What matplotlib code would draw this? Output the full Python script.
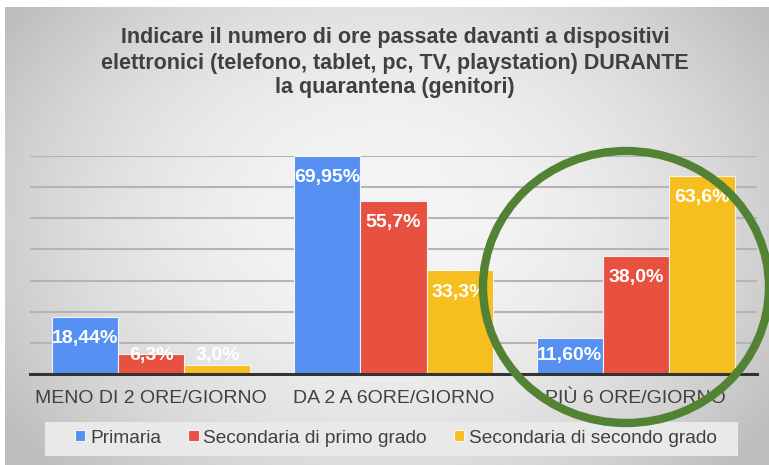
import numpy as np
import matplotlib.pyplot as plt
from matplotlib.patches import Ellipse, Rectangle

plt.rcParams['font.family'] = ['Liberation Sans', 'DejaVu Sans']

categories = ['MENO DI 2 ORE/GIORNO', 'DA 2 A 6ORE/GIORNO', 'PIÙ 6 ORE/GIORNO']
series_names = ['Primaria', 'Secondaria di primo grado', 'Secondaria di secondo grado']
primaria = [18.44, 69.95, 11.60]
primo_grado = [6.3, 55.7, 38.0]
secondo_grado = [3.0, 33.3, 63.6]
value_labels = [['18,44%', '69,95%', '11,60%'],
                ['6,3%', '55,7%', '38,0%'],
                ['3,0%', '33,3%', '63,6%']]
colors = ['#5590f2', '#e8503f', '#f6be1e']

title = ('Indicare il numero di ore passate davanti a dispositivi\n'
         'elettronici (telefono, tablet, pc, TV, playstation) DURANTE\n'
         'la quarantena (genitori)')

W, H = 769, 465
fig = plt.figure(figsize=(W / 100, H / 100), dpi=100, facecolor='white')

# gradient background
bg = fig.add_axes([5 / W, 0, 1 - 5 / W, 1 - 7 / H])
yy, xx = np.mgrid[0:200, 0:330]
r = np.sqrt(((xx - 165) / 190) ** 2 + ((yy - 95) / 150) ** 2)
shade = np.clip(0.96 - 0.2 * r ** 2, 0.74, 0.965)
bg.imshow(shade, cmap='gray', vmin=0, vmax=1, aspect='auto', interpolation='bilinear')
bg.axis('off')

ax = fig.add_axes([30 / W, 1 - 374 / H, 727 / W, 218 / H])
ax.set_facecolor('none')

x = np.arange(len(categories))
width = 0.273
for i, (vals, col) in enumerate(zip([primaria, primo_grado, secondo_grado], colors)):
    pos = x + (i - 1) * width
    ax.bar(pos, vals, width, color=col, edgecolor='#f4f4f4', linewidth=0.8,
           label=series_names[i], zorder=3)
    for p, v, lab in zip(pos, vals, value_labels[i]):
        ax.text(p, max(v - 7, 5.8), lab, ha='center', va='center', color='white',
                fontsize=14, fontweight='bold', zorder=4)

ax.set_xlim(-0.5, 2.5)
ax.set_ylim(0, 70)
ax.set_yticks(np.arange(10, 71, 10))
ax.yaxis.grid(True, color='#b4b4b4', linewidth=1.5, zorder=0)
ax.tick_params(axis='y', left=False, labelleft=False)
ax.tick_params(axis='x', bottom=False, pad=8)
ax.set_xticks(x)
ax.set_xticklabels(categories, fontsize=14, color='#404040')
for s in ['top', 'right', 'left']:
    ax.spines[s].set_visible(False)
ax.spines['bottom'].set_color('#333333')
ax.spines['bottom'].set_linewidth(2.2)
ax.spines['bottom'].set_zorder(5)

fig.text(395 / W, 1 - 63 / H, title, ha='center', va='center', fontsize=15.5,
         fontweight='bold', color='#404040', linespacing=1.25)

# legend box
fig.patches.append(Rectangle((45 / W, 1 - 456 / H), 693 / W, 34 / H,
                             transform=fig.transFigure, facecolor='#e9e9e9',
                             edgecolor='none', zorder=1))
leg = fig.legend(loc='center', bbox_to_anchor=(396 / W, 1 - 438 / H), ncol=3,
                 frameon=False, fontsize=13.8, handlelength=0.55, handleheight=0.55,
                 handletextpad=0.25, columnspacing=1.4, borderpad=0, borderaxespad=0)
for t in leg.get_texts():
    t.set_color('#404040')

# green highlight circle
circle = Ellipse((626 / W, 1 - 287 / H), 286 / W, 272 / H, transform=fig.transFigure,
                 fill=False, edgecolor='#548235', linewidth=6, zorder=10)
fig.patches.append(circle)

fig.savefig('out.png', dpi=100)
